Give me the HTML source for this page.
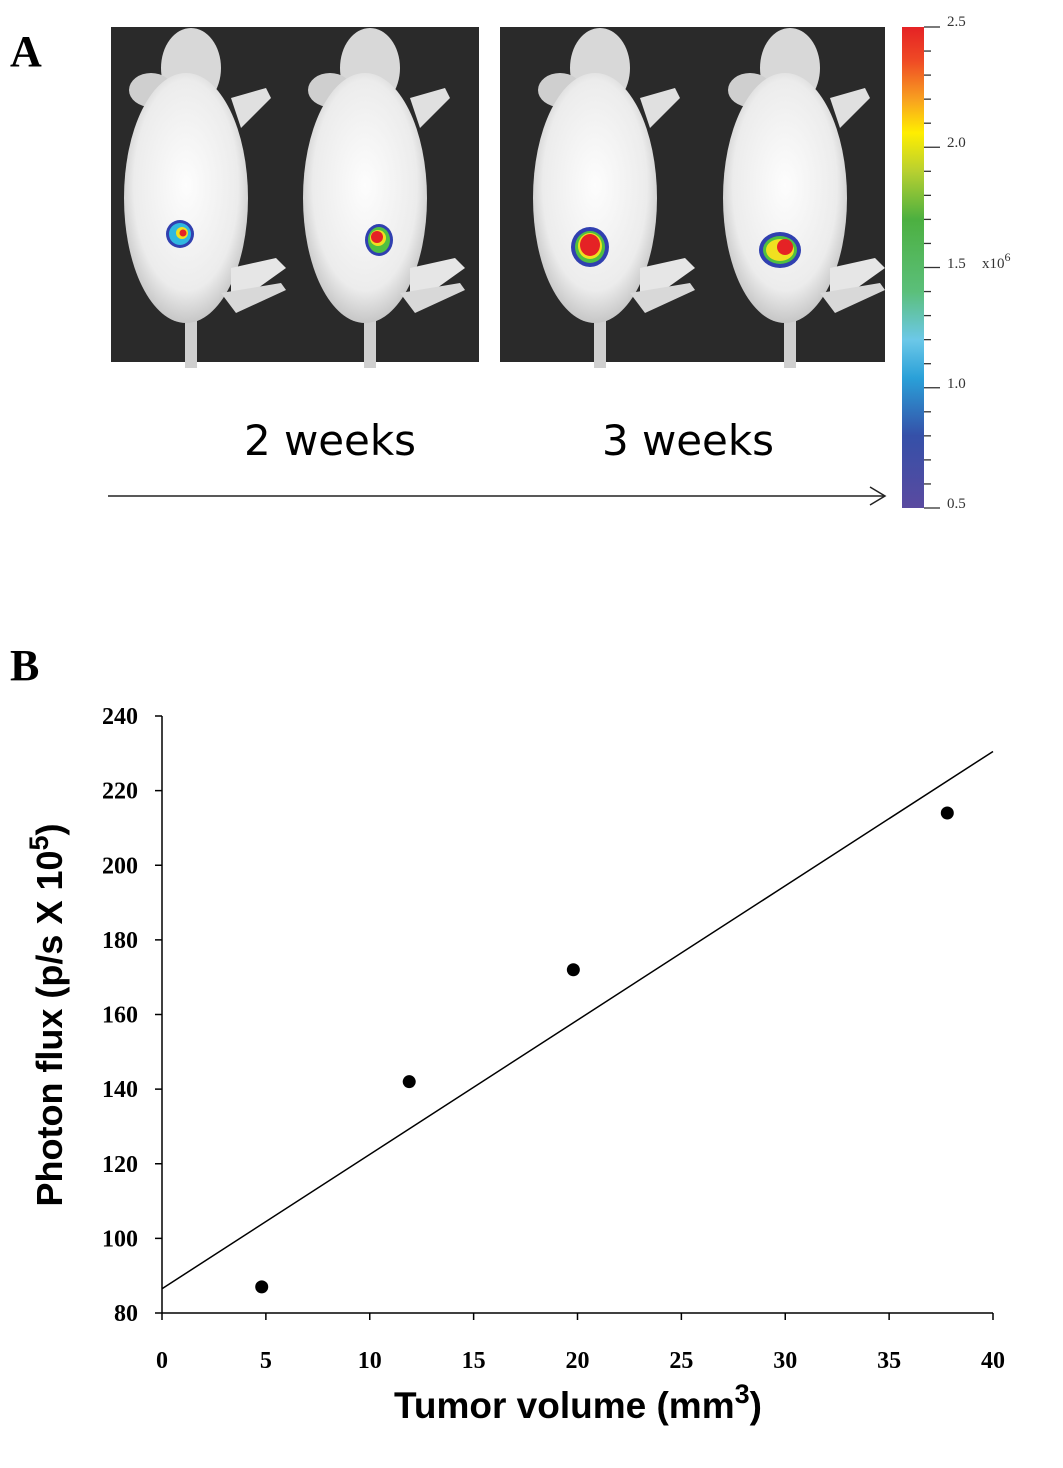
<!DOCTYPE html>
<html><head><meta charset="utf-8"><style>
html,body{margin:0;padding:0;background:#fff;}
svg{display:block;}
</style></head><body>
<svg width="1063" height="1468" viewBox="0 0 1063 1468" xmlns="http://www.w3.org/2000/svg">
<defs>
<linearGradient id="cb" x1="0" y1="1" x2="0" y2="0">
<stop offset="0" stop-color="#5a4aa0"/><stop offset="0.15" stop-color="#3550a8"/><stop offset="0.27" stop-color="#2aa0d8"/>
<stop offset="0.35" stop-color="#6cc8e8"/><stop offset="0.45" stop-color="#5bbf7a"/><stop offset="0.6" stop-color="#4cb040"/>
<stop offset="0.7" stop-color="#b8d030"/><stop offset="0.78" stop-color="#ffee00"/><stop offset="0.85" stop-color="#f8a020"/>
<stop offset="0.93" stop-color="#ef4a25"/><stop offset="1" stop-color="#e52225"/>
</linearGradient>
<radialGradient id="mg" cx="0.5" cy="0.45" r="0.6"><stop offset="0" stop-color="#fdfdfd"/><stop offset="0.7" stop-color="#ececec"/><stop offset="1" stop-color="#b8b8b8"/></radialGradient>
<g id="mouse">
<rect x="-6" y="270" width="12" height="70" fill="#cfcfcf"/>
<ellipse cx="0" cy="40" rx="30" ry="40" fill="#d8d8d8"/>
<ellipse cx="-40" cy="62" rx="22" ry="17" fill="#cfcfcf"/>
<path d="M40 70 L75 60 L80 70 L50 100 Z" fill="#e0e0e0"/>
<ellipse cx="-5" cy="170" rx="62" ry="125" fill="url(#mg)"/>
<path d="M40 240 L85 230 L95 240 L60 265 L40 275 Z" fill="#e6e6e6"/>
<path d="M30 265 L90 255 L95 262 L45 285 Z" fill="#d8d8d8"/>
</g>
</defs>
<text x="10" y="66" font-family="Liberation Serif, serif" font-weight="bold" font-size="44">A</text>
<g>
<rect x="111" y="27" width="368" height="335" fill="#2a2a2a"/>
<use href="#mouse" x="191" y="28"/>
<use href="#mouse" x="370" y="28"/>
<circle cx="180" cy="234" r="14" fill="#3040b0"/><circle cx="180" cy="234" r="11" fill="#30b8e0"/><circle cx="182" cy="233" r="6" fill="#f0e020"/><circle cx="183" cy="233" r="3.5" fill="#e52225"/>
<ellipse cx="379" cy="240" rx="14" ry="16" fill="#3040b0"/><ellipse cx="379" cy="240" rx="11" ry="13" fill="#50c040"/><ellipse cx="378" cy="238" rx="8" ry="8" fill="#f0e020"/><circle cx="377" cy="237" r="6" fill="#e52225"/>
</g>
<g>
<rect x="500" y="27" width="385" height="335" fill="#2a2a2a"/>
<use href="#mouse" x="600" y="28"/>
<use href="#mouse" x="790" y="28"/>
<ellipse cx="590" cy="247" rx="19" ry="20" fill="#3040b0"/><ellipse cx="590" cy="247" rx="15" ry="16" fill="#50c040"/><ellipse cx="590" cy="246" rx="12" ry="13" fill="#f0e020"/><ellipse cx="590" cy="245" rx="10" ry="11" fill="#e52225"/>
<ellipse cx="780" cy="250" rx="21" ry="18" fill="#3040b0"/><ellipse cx="780" cy="250" rx="17" ry="14" fill="#50c040"/><ellipse cx="780" cy="250" rx="14" ry="11" fill="#f0e020"/><ellipse cx="785" cy="247" rx="8" ry="8" fill="#e52225"/>
</g>
<g>
<rect x="902" y="27" width="22" height="481" fill="url(#cb)"/>
<g stroke="#333" stroke-width="1.3" id="cbt"></g>
<g font-family="Liberation Serif, serif" font-size="15" fill="#333">
<text x="947" y="26">2.5</text><text x="947" y="147">2.0</text><text x="947" y="268">1.5</text><text x="947" y="388">1.0</text><text x="947" y="508">0.5</text>
<text x="982" y="268">x10<tspan dy="-7" font-size="12">6</tspan></text>
</g>
</g>
<text x="330" y="455" text-anchor="middle" font-family="DejaVu Sans, sans-serif" font-size="42" textLength="172">2 weeks</text>
<text x="688" y="455" text-anchor="middle" font-family="DejaVu Sans, sans-serif" font-size="42" textLength="172">3 weeks</text>
<g><line x1="108" y1="496" x2="884" y2="496" stroke="#222" stroke-width="1.5"/><path d="M870 487 L885 496 L870 505" fill="none" stroke="#222" stroke-width="1.5"/></g>

<text x="10" y="680" font-family="Liberation Serif, serif" font-weight="bold" font-size="44">B</text>
<g id="chart"></g>
<text x="578" y="1418" text-anchor="middle" font-family="Liberation Sans, sans-serif" font-weight="bold" font-size="37">Tumor volume (mm<tspan dy="-15" font-size="27">3</tspan><tspan dy="15">)</tspan></text>
<text transform="translate(62,1015) rotate(-90)" text-anchor="middle" font-family="Liberation Sans, sans-serif" font-weight="bold" font-size="36">Photon flux (p/s X 10<tspan dy="-14" font-size="27">5</tspan><tspan dy="14">)</tspan></text>
</svg>
<script>
const xVals = [4.8, 11.9, 19.8, 37.8];
const yVals = [87, 142, 172, 214];
const xTicks = [0,5,10,15,20,25,30,35,40];
const yTicks = [80,100,120,140,160,180,200,220,240];
const fitLine = [86.5, 3.6];
const NS='http://www.w3.org/2000/svg';
const X=v=>162+(v-0)*(993-162)/40;
const Y=v=>1313-(v-80)*(1313-716)/160;
const g=document.getElementById('chart');
function mk(t,a){const e=document.createElementNS(NS,t);for(const k in a)e.setAttribute(k,a[k]);g.appendChild(e);return e;}
let ax=mk('line',{x1:162,y1:716,x2:162,y2:1313,stroke:'#000','stroke-width':1.5});


ax=mk('line',{x1:162,y1:1313,x2:993,y2:1313,stroke:'#000','stroke-width':1.5});


yTicks.forEach(v=>{mk('line',{x1:155,y1:Y(v),x2:162,y2:Y(v),stroke:'#000','stroke-width':1.5});
const t=mk('text',{x:138,y:Y(v)+8,'text-anchor':'end','font-family':'Liberation Serif, serif','font-weight':'bold','font-size':24});t.textContent=v;

});
xTicks.forEach(v=>{mk('line',{x1:X(v),y1:1313,x2:X(v),y2:1320,stroke:'#000','stroke-width':1.5});
const t=mk('text',{x:X(v),y:1368,'text-anchor':'middle','font-family':'Liberation Serif, serif','font-weight':'bold','font-size':24});t.textContent=v;

});
const fl=mk('line',{x1:X(0),y1:Y(fitLine[0]),x2:X(40),y2:Y(fitLine[0]+fitLine[1]*40),stroke:'#000','stroke-width':1.5});


xVals.forEach((v,i)=>{const c=mk('circle',{cx:X(v),cy:Y(yVals[i]),r:6.5,fill:'#000'});

});
const cbt=document.getElementById('cbt');
for(let i=0;i<=20;i++){const y=27+i*481/20;const l=document.createElementNS(NS,'line');
l.setAttribute('x1',924);l.setAttribute('x2',i%5==0?940:931);l.setAttribute('y1',y);l.setAttribute('y2',y);cbt.appendChild(l);}
</script>
</body></html>
